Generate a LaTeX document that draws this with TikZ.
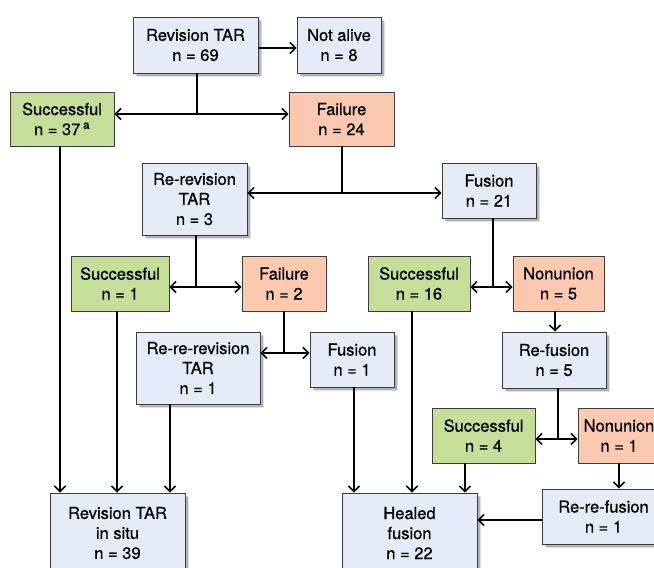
\documentclass[tikz,border=0pt]{standalone}
\usepackage{fontspec}
\setmainfont{TeX Gyre Heros}[FakeBold=0.7]
\usetikzlibrary{positioning}
\usetikzlibrary{arrows.meta}
\usetikzlibrary{shadows}
\definecolor{boxblue}{RGB}{230,236,247}
\definecolor{boxgreen}{RGB}{197,223,155}
\definecolor{boxred}{RGB}{251,200,176}
\definecolor{boxline}{RGB}{60,60,60}
\tikzset{
every node/.style=
    { % Sets the text of each box
        font=\fontsize{16.5}{20}\selectfont,
        align=center
    },
box/.style={draw=boxline, line width=0.8pt, inner sep=0pt},
treat/.style={box, fill=boxblue, % Blue boxes cast a soft shadow
    general shadow={shadow xshift=4pt, shadow yshift=-4pt, opacity=0.12, fill=black},
    general shadow={shadow xshift=3pt, shadow yshift=-3pt, opacity=0.2, fill=black}},
good/.style={box, fill=boxgreen},
bad/.style={box, fill=boxred},
stem/.style={line width=1.6pt},
every edge/.style={ % Sets the properties for each arrow
    draw,
    -{Straight Barb[length=5.5pt,width=11pt]},
    line width=1.6pt
}
}
\begin{document}
\begin{tikzpicture}[x=1pt,y=-1pt]
    \useasboundingbox (0,0) rectangle (654,568);
    \node[treat, minimum width=125, minimum height=56] (rev) at (195.5,45) {Revision TAR\\n = 69};
    \node[treat, minimum width=84, minimum height=56] (dead) at (339,45) {Not alive\\n = 8};
    \node[good, minimum width=104, minimum height=54] (succA) at (62,119) {Successful\\n = 37\,\textsuperscript{a}};
    \node[bad, minimum width=105, minimum height=54] (failA) at (341.5,119) {Failure\\n = 24};
    \node[treat, minimum width=105, minimum height=72] (rerev) at (194.5,199) {Re-revision\\TAR\\n = 3};
    \node[treat, minimum width=94, minimum height=55] (fusA) at (489,190.5) {Fusion\\n = 21};
    \node[good, minimum width=98, minimum height=55] (succB) at (120,283.5) {Successful\\n = 1};
    \node[bad, minimum width=84, minimum height=55] (failB) at (284,283.5) {Failure\\n = 2};
    \node[good, minimum width=102, minimum height=55] (succC) at (419,283.5) {Successful\\n = 16};
    \node[bad, minimum width=91, minimum height=55] (nonA) at (558.5,283.5) {Nonunion\\n = 5};
    \node[treat, minimum width=124, minimum height=72] (rrrev) at (198,368) {Re-re-revision\\TAR\\n = 1};
    \node[treat, minimum width=84, minimum height=55] (fusB) at (352,359.5) {Fusion\\n = 1};
    \node[treat, minimum width=104, minimum height=56] (refus) at (554,360) {Re-fusion\\n = 5};
    \node[good, minimum width=103, minimum height=55] (succD) at (483.5,435.5) {Successful\\n = 4};
    \node[bad, minimum width=82, minimum height=55] (nonB) at (619,435.5) {Nonunion\\n = 1};
    \node[treat, minimum width=123, minimum height=55] (rrfus) at (603.5,516.5) {Re-re-fusion\\n = 1};
    \node[treat, minimum width=135, minimum height=80] (situ) at (117.5,533) {Revision TAR\\in situ\\n = 39};
    \node[treat, minimum width=135, minimum height=80] (heal) at (409.5,533) {Healed\\fusion\\n = 22};
    % branch points
    \coordinate (j1) at (197,114);
    \coordinate (j2) at (342,193);
    \coordinate (j3) at (196,287);
    \coordinate (j4) at (493,287);
    \coordinate (j5) at (284,353);
    \coordinate (j6) at (558,439);
    \draw[stem] (rev.south -| j1) -- (j1);
    \draw[stem] (failA.south -| j2) -- (j2);
    \draw[stem] (rerev.south -| j3) -- (j3);
    \draw[stem] (fusA.south -| j4) -- (j4);
    \draw[stem] (failB.south -| j5) -- (j5);
    \draw[stem] (refus.south -| j6) -- (j6);
    \draw
    (rev.east |- 0,48) edge (dead.west |- 0,48)
    (j1) edge (j1 -| succA.east)
    (j1) edge (j1 -| failA.west)
    (j2) edge (j2 -| rerev.east)
    (j2) edge (j2 -| fusA.west)
    (j3) edge (j3 -| succB.east)
    (j3) edge (j3 -| failB.west)
    (j4) edge (j4 -| succC.east)
    (j4) edge (j4 -| nonA.west)
    (j5) edge (j5 -| rrrev.east)
    (j5) edge (j5 -| fusB.west)
    (j6) edge (j6 -| succD.east)
    (j6) edge (j6 -| nonB.west)
    (nonA.south -| 555,0) edge (refus.north -| 555,0)
    (nonB.south) edge (rrfus.north -| nonB.south)
    (succA.south -| 60,0) edge (situ.north -| 60,0)
    (succB.south -| 117,0) edge (situ.north -| 117,0)
    (rrrev.south -| 170,0) edge (situ.north -| 170,0)
    (fusB.south -| 354,0) edge (heal.north -| 354,0)
    (succC.south -| 412,0) edge (heal.north -| 412,0)
    (succD.south -| 465,0) edge (heal.north -| 465,0)
    (rrfus.west |- 0,520) edge (heal.east |- 0,520)
    ;
\end{tikzpicture}
\end{document}
